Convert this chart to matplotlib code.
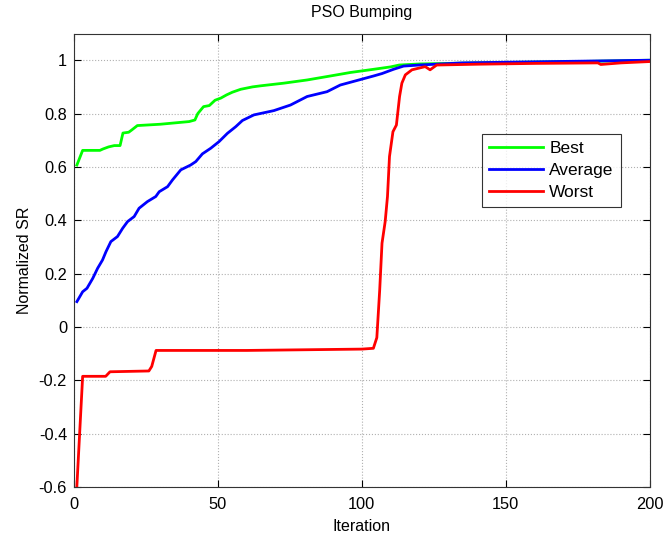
import matplotlib
matplotlib.use("Agg")
import matplotlib.pyplot as plt

plt.rcParams['font.family'] = ['Liberation Sans', 'DejaVu Sans']

title = "PSO Bumping"
xlabel = "Iteration"
ylabel = "Normalized SR"
series_names = ["Best", "Average", "Worst"]
series_colors = ["#00ff00", "#0000ff", "#ff0000"]

best_x = [1, 3, 9, 10, 12, 14, 16, 17, 19, 20, 22, 30, 40, 42, 43, 45, 47, 49, 51, 53,
          55, 57.9, 62, 64.8, 72.9, 81, 89.1, 96, 104.1, 110, 113, 120, 140, 160, 180, 200]
best_y = [0.607, 0.662, 0.662, 0.667, 0.675, 0.68, 0.68, 0.727, 0.73, 0.738, 0.755, 0.76,
          0.77, 0.776, 0.80, 0.826, 0.83, 0.85, 0.858, 0.87, 0.88, 0.891, 0.90, 0.904,
          0.914, 0.926, 0.941, 0.954, 0.966, 0.975, 0.982, 0.986, 0.99, 0.993, 0.996, 1.0]

avg_x = [1, 3, 4.5, 6.5, 8.2, 9.9, 11.1, 12.8, 15.1, 16.9, 18.6, 20.9, 22.6, 25.5, 28.4,
         29.6, 32.5, 34.2, 37.1, 40.5, 42.3, 44.6, 47.5, 50.4, 53.3, 56.2, 58.5, 62.5,
         69.4, 75.2, 81, 87.9, 92.5, 98.3, 104.1, 107, 111, 114.5, 120, 135, 160, 180, 200]
avg_y = [0.095, 0.132, 0.145, 0.182, 0.22, 0.251, 0.282, 0.32, 0.339, 0.37, 0.395, 0.414,
         0.445, 0.47, 0.489, 0.507, 0.526, 0.551, 0.589, 0.607, 0.62, 0.649, 0.67, 0.695,
         0.726, 0.751, 0.774, 0.795, 0.811, 0.832, 0.864, 0.882, 0.907, 0.924, 0.941,
         0.95, 0.966, 0.978, 0.982, 0.99, 0.994, 0.997, 1.0]

worst_x = [1, 3, 11, 12.5, 26, 27, 28.5, 60, 100, 104, 105.2, 106.2, 107, 108.1, 108.9,
           109.6, 110.8, 112, 113.1, 113.9, 115.1, 117.4, 122, 123.7, 126, 140, 160, 182,
           183, 190, 200]
worst_y = [-0.595, -0.185, -0.185, -0.168, -0.165, -0.148, -0.088, -0.088, -0.083, -0.08,
           -0.04, 0.139, 0.314, 0.395, 0.489, 0.639, 0.732, 0.757, 0.864, 0.914, 0.945,
           0.964, 0.976, 0.964, 0.982, 0.985, 0.988, 0.99, 0.984, 0.99, 0.995]

xticks = [0, 50, 100, 150, 200]
yticks = [-0.6, -0.4, -0.2, 0, 0.2, 0.4, 0.6, 0.8, 1]
ytick_labels = ["-0.6", "-0.4", "-0.2", "0", "0.2", "0.4", "0.6", "0.8", "1"]

fig = plt.figure(figsize=(6.65, 5.35), dpi=100)
ax = fig.add_axes([0.1113, 0.0897, 0.8657, 0.8476])

for xs, ys, name, c in zip([best_x, avg_x, worst_x], [best_y, avg_y, worst_y],
                           series_names, series_colors):
    ax.plot(xs, ys, color=c, lw=2.0, label=name)

ax.set_xlim(0, 200)
ax.set_ylim(-0.6, 1.1)
ax.set_xticks(xticks)
ax.set_yticks(yticks)
ax.set_yticklabels(ytick_labels)
ax.tick_params(direction='in', top=True, right=True, labelsize=11.8, length=5)
ax.tick_params(axis='x', pad=7)
ax.tick_params(axis='y', pad=5)
ax.grid(True, linestyle=':', color='#b0b0b0', linewidth=0.8)
for s in ax.spines.values():
    s.set_linewidth(0.8)
    s.set_color('#333333')

ax.set_title(title, fontsize=11.5, pad=12)
ax.set_xlabel(xlabel, fontsize=11.5, labelpad=5)
ax.set_ylabel(ylabel, fontsize=11.5, labelpad=5)

leg = ax.legend(loc='upper left', bbox_to_anchor=(0.709, 0.779), fontsize=12.5,
                frameon=True, fancybox=False, edgecolor='black', handlelength=3.1,
                borderpad=0.42, labelspacing=0.38, handletextpad=0.35, borderaxespad=0)
leg.get_frame().set_linewidth(0.8)

fig.savefig("out.png", dpi=100)
